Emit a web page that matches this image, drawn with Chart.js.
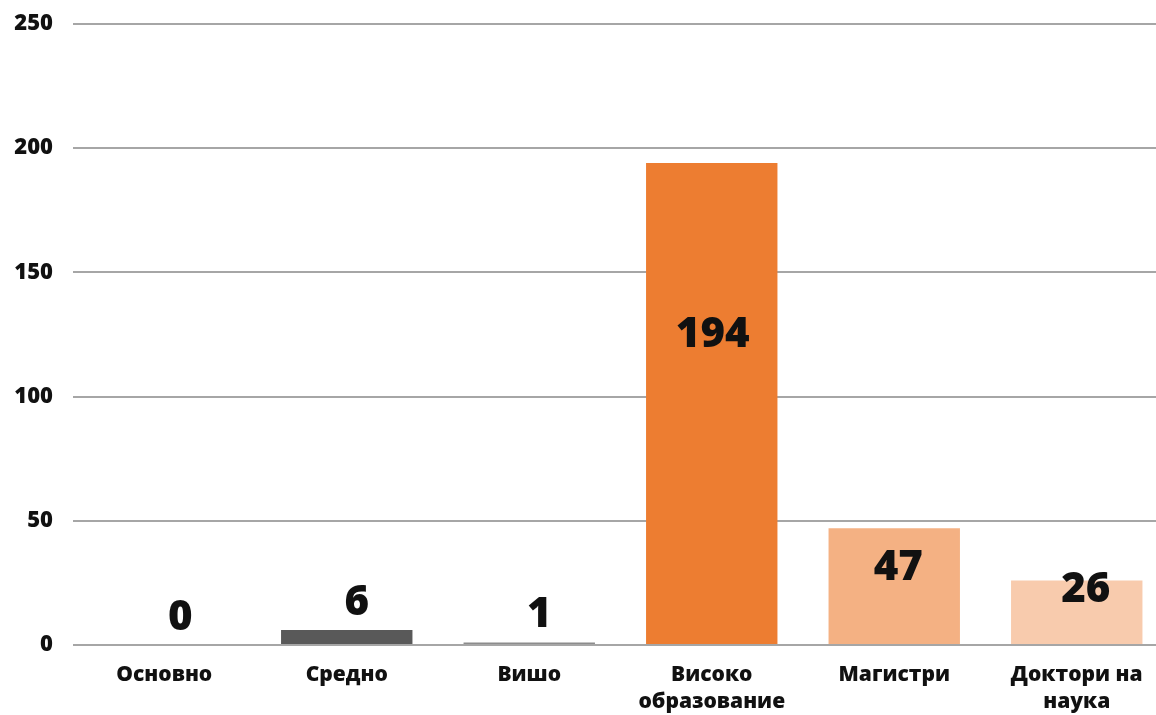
<!DOCTYPE html>
<html>
<head>
<meta charset="utf-8">
<script src="https://cdn.jsdelivr.net/npm/chart.js@4.4.1/dist/chart.umd.min.js"></script>
<style>
  html, body { margin: 0; padding: 0; background: #fff; overflow: hidden; }
  .wrap { width: 1156px; height: 715px; overflow: hidden; }
</style>
</head>
<body>
<div class="wrap">
  <canvas id="eduChart" width="1170" height="715"></canvas>
</div>
<script>
// Education level of staff
const categories = ["Основно", "Средно", "Вишо", ["Високо", "образование"], "Магистри", ["Доктори на", "наука"]];
const counts = [0, 6, 1, 194, 47, 26];
const yTicks = [0, 50, 100, 150, 200, 250];

const barColors = ["#595959", "#595959", "#8c8c8c", "#ed7d31", "#f4b183", "#f8cbad"];
// nudge of each value label from the top centre of its bar (px)
const labelShiftX = [16, 10, 10, 1, 4, 9];
const labelShiftY = [-27, -27, -27, 172, 40, 10];

// Draws the big value labels on the bars
const valueLabels = {
  id: "valueLabels",
  afterDatasetsDraw(chart) {
    const ctx = chart.ctx;
    const meta = chart.getDatasetMeta(0);
    ctx.save();
    ctx.font = "800 42px 'Open Sans'";
    ctx.fillStyle = "#111";
    ctx.textAlign = "center";
    ctx.textBaseline = "middle";
    meta.data.forEach((bar, i) => {
      ctx.fillText(String(counts[i]), bar.x + labelShiftX[i], bar.y + labelShiftY[i]);
    });
    ctx.restore();
  },
};

const ctx = document.getElementById("eduChart").getContext("2d");
const eduChart = new Chart(ctx, {
  type: "bar",
  data: {
    labels: categories,
    datasets: [
      {
        data: counts,
        backgroundColor: barColors,
        borderWidth: 0,
        barPercentage: 0.72,
        categoryPercentage: 1,
      },
    ],
  },
  options: {
    responsive: false,
    animation: false,
    layout: {
      padding: { top: 24, right: 2, left: 0, bottom: 0 },
    },
    plugins: {
      legend: { display: false },
      tooltip: { enabled: false },
    },
    scales: {
      y: {
        min: 0,
        max: 250,
        afterBuildTicks(axis) {
          axis.ticks = yTicks.map((v) => ({ value: v }));
        },
        afterFit(axis) {
          axis.width = 73;
          axis.paddingTop = 0;
          axis.paddingBottom = 0;
        },
        border: { display: false },
        grid: {
          color: "#a6a6a6",
          lineWidth: 2,
          drawTicks: false,
        },
        ticks: {
          padding: 20,
          color: "#111",
          font: { family: "Open Sans", size: 22, weight: 800 },
        },
      },
      x: {
        afterFit(axis) {
          axis.height = 70;
          axis.paddingLeft = 0;
          axis.paddingRight = 0;
        },
        border: { display: false },
        grid: { display: false, drawTicks: false },
        ticks: {
          padding: 17,
          color: "#111",
          maxRotation: 0,
          autoSkip: false,
          font: { family: "Open Sans", size: 21, weight: 800, lineHeight: 1.27 },
        },
      },
    },
  },
  plugins: [valueLabels],
});
</script>
</body>
</html>
